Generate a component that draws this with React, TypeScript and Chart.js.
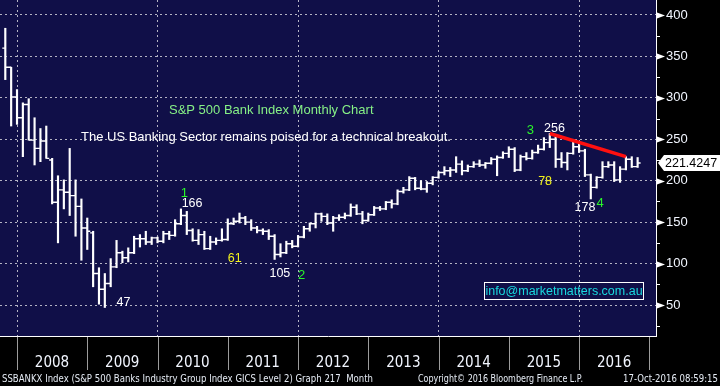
import React, { useEffect, useRef } from 'react';
import { Chart, registerables } from 'chart.js';

Chart.register(...registerables);

// Monthly bars, Oct 2007 .. Oct 2016 (index 0 = Oct 2007)
const firstMonth = 'Oct 2007';
const yearLabels = ['2008', '2009', '2010', '2011', '2012', '2013', '2014', '2015', '2016', ''];
// index of each December bar (year boundaries)
const yearEnds = [2, 14, 26, 38, 50, 62, 74, 86, 98, 110];

const opens = [
  360, 337, 301, 276, 292, 249, 239, 248, 225, 174,
  189, 186, 182, 169, 143, 137, 88, 69, 76, 96,
  113, 107, 113, 130, 130, 126, 131, 127, 136, 134,
  148, 158, 140, 128, 135, 118, 126, 128, 129, 148,
  151, 155, 150, 143, 140, 139, 133, 111, 113, 124,
  121, 132, 142, 148, 160, 157, 149, 155, 156, 158,
  168, 160, 152, 159, 167, 166, 174, 172, 187, 189,
  203, 191, 190, 197, 204, 210, 212, 213, 220, 212,
  217, 220, 219, 221, 226, 228, 233, 238, 213, 229,
  227, 234, 238, 246, 250, 226, 222, 233, 241, 236,
  207, 192, 204, 217, 219, 201, 214, 226, 217,
];
const highs = [
  384, 337, 310, 294, 299, 276, 263, 266, 227, 206,
  201, 239, 201, 178, 155, 139, 95, 88, 106, 128,
  115, 119, 133, 135, 139, 132, 132, 139, 139, 153,
  166, 163, 142, 141, 139, 133, 131, 142, 154, 155,
  161, 157, 153, 145, 142, 141, 135, 124, 127, 128,
  134, 145, 149, 161, 161, 160, 157, 159, 161, 172,
  171, 163, 161, 169, 169, 175, 177, 189, 192, 205,
  204, 200, 199, 205, 211, 217, 216, 229, 224, 219,
  223, 225, 222, 228, 230, 235, 241, 240, 231, 234,
  237, 243, 252, 257, 253, 234, 234, 250, 246, 238,
  208, 205, 223, 223, 223, 217, 229, 229, 228,
];
const lows = [
  322, 266, 268, 229, 249, 219, 223, 227, 172, 125,
  166, 158, 133, 104, 117, 72, 51, 47, 72, 95,
  101, 102, 112, 120, 123, 123, 125, 125, 129, 133,
  147, 135, 127, 123, 117, 117, 123, 127, 128, 147,
  149, 147, 140, 137, 135, 129, 105, 108, 112, 119,
  120, 131, 139, 143, 151, 147, 139, 152, 154, 157,
  159, 148, 151, 158, 164, 165, 167, 171, 185, 188,
  189, 189, 186, 195, 203, 207, 205, 210, 207, 211,
  216, 217, 215, 220, 206, 227, 228, 211, 212, 225,
  226, 233, 237, 240, 216, 216, 213, 232, 234, 205,
  178, 191, 203, 216, 199, 198, 213, 216, 216,
];
const closes = [
  337, 301, 276, 292, 249, 239, 248, 227, 174, 189,
  186, 182, 169, 143, 139, 88, 69, 76, 96, 113,
  107, 113, 130, 130, 126, 131, 127, 136, 134, 148,
  158, 140, 128, 135, 118, 126, 128, 129, 148, 151,
  155, 150, 143, 140, 139, 133, 111, 113, 124, 121,
  132, 142, 148, 160, 157, 149, 155, 156, 158, 168,
  160, 152, 159, 167, 166, 174, 172, 187, 189, 203,
  191, 190, 197, 204, 210, 212, 213, 220, 212, 217,
  220, 219, 221, 226, 228, 233, 238, 213, 229, 227,
  234, 238, 246, 250, 226, 222, 233, 241, 236, 207,
  192, 204, 217, 219, 201, 214, 226, 217, 221.4247,
];
const lastPriceText = '221.4247';

// red resistance line (bar index, value)
const trendIdx = [93, 106];
const trendVal = [257, 229];

const yTickValues = [25, 50, 75, 100, 125, 150, 175, 200, 225, 250, 275, 300, 325, 350, 375, 400];

const GREEN = '#2af52a';
const YELLOW = '#f2f21c';
const WHITE = '#ffffff';
const annotations = [
  { text: 'S&P 500 Bank Index Monthly Chart', i: 27.96, v: 285.3, color: '#86f086', size: 13, align: 'left' },
  { text: 'The US Banking Sector remains poised for a technical breakout.', i: 12.93, v: 252.8, color: WHITE, size: 13, align: 'left' },
  { text: '1', i: 30.6, v: 185.2, color: GREEN, size: 13, align: 'center' },
  { text: '166', i: 31.9, v: 171.9, color: WHITE, size: 12.5, align: 'center' },
  { text: '47', i: 20.2, v: 52.4, color: WHITE, size: 12.5, align: 'center' },
  { text: '61', i: 39.2, v: 105.5, color: YELLOW, size: 12.5, align: 'center' },
  { text: '105', i: 46.9, v: 88.0, color: WHITE, size: 12.5, align: 'center' },
  { text: '2', i: 50.6, v: 86.2, color: GREEN, size: 13, align: 'center' },
  { text: '3', i: 89.7, v: 261.2, color: GREEN, size: 13, align: 'center' },
  { text: '256', i: 93.8, v: 262.4, color: WHITE, size: 12.5, align: 'center' },
  { text: '78', i: 92.2, v: 199.0, color: YELLOW, size: 12.5, align: 'center' },
  { text: '178', i: 99.0, v: 167.7, color: WHITE, size: 12.5, align: 'center' },
  { text: '4', i: 101.6, v: 173.1, color: GREEN, size: 13, align: 'center' },
];

const footerLeft = 'SSBANKX Index (S&P 500 Banks Industry Group Index GICS Level 2) Graph 217  Month';
const footerMid = 'Copyright\u00A9 2016 Bloomberg Finance L.P.';
const footerRight = '17-Oct-2016 08:59:15';
const infoText = 'info@marketmatters.com.au';

const NAVY = '#100f48';
const GRID = '#b4b4c4';
const SANS = '"Liberation Sans", Arial, sans-serif';
const FOOT = '"DejaVu Sans", Tahoma, sans-serif';

const zeroPadding = (s: any) => {
  s.paddingLeft = 0;
  s.paddingRight = 0;
  s.paddingTop = 0;
  s.paddingBottom = 0;
};

const decorPlugin = {
  id: 'decor',
  beforeDraw(chart: any) {
    const { ctx, chartArea: a, width, height } = chart;
    ctx.save();
    ctx.fillStyle = '#000000';
    ctx.fillRect(0, 0, width, height);
    ctx.fillStyle = NAVY;
    ctx.fillRect(a.left, a.top, a.right - a.left, a.bottom - a.top);
    ctx.restore();
  },
  afterDatasetDraw(chart: any, args: any) {
    if (args.index !== 0) return;
    const { ctx, chartArea: a } = chart;
    const xs = chart.scales.x;
    const ys = chart.scales.y;
    ctx.save();
    ctx.beginPath();
    ctx.rect(a.left, a.top, a.right - a.left, a.bottom - a.top);
    ctx.clip();
    ctx.strokeStyle = '#ffffff';
    ctx.lineWidth = 1.4;
    ctx.beginPath();
    for (let i = 0; i < opens.length; i++) {
      const px = xs.getPixelForValue(i);
      const yo = ys.getPixelForValue(opens[i]);
      const yc = ys.getPixelForValue(closes[i]);
      ctx.moveTo(px - 3, yo);
      ctx.lineTo(px, yo);
      ctx.moveTo(px, yc);
      ctx.lineTo(px + 3, yc);
    }
    ctx.stroke();
    ctx.restore();
  },
  afterDraw(chart: any) {
    const { ctx, chartArea: a, width } = chart;
    const xs = chart.scales.x;
    const ys = chart.scales.y;
    ctx.save();

    // annotations
    ctx.textBaseline = 'middle';
    annotations.forEach((an) => {
      ctx.font = `${an.size}px ${SANS}`;
      ctx.fillStyle = an.color;
      ctx.textAlign = an.align as CanvasTextAlign;
      ctx.fillText(an.text, xs.getPixelForValue(an.i), ys.getPixelForValue(an.v));
    });

    // info box
    const bx = a.right - 172;
    const by = a.bottom - 54;
    ctx.strokeStyle = '#ffffff';
    ctx.lineWidth = 1;
    ctx.strokeRect(bx + 0.5, by + 0.5, 159, 17);
    ctx.font = `12.5px ${SANS}`;
    ctx.fillStyle = '#19d9df';
    ctx.textAlign = 'center';
    ctx.fillText(infoText, bx + 80, by + 9.5);

    // y-axis markers
    yTickValues.forEach((v) => {
      const py = Math.round(ys.getPixelForValue(v)) + 0.5;
      ctx.fillStyle = '#ffffff';
      ctx.strokeStyle = '#ffffff';
      if (v % 50 === 0) {
        ctx.beginPath();
        ctx.moveTo(a.right + 1, py - 3);
        ctx.lineTo(a.right + 9, py);
        ctx.lineTo(a.right + 1, py + 3);
        ctx.closePath();
        ctx.fill();
      } else {
        ctx.beginPath();
        ctx.moveTo(a.right, py);
        ctx.lineTo(a.right + 4, py);
        ctx.stroke();
      }
    });

    // last price tag
    const ly = ys.getPixelForValue(closes[closes.length - 1]);
    ctx.fillStyle = '#ffffff';
    ctx.beginPath();
    ctx.moveTo(a.right + 2, ly);
    ctx.lineTo(a.right + 8, ly - 8);
    ctx.lineTo(width, ly - 8);
    ctx.lineTo(width, ly + 8);
    ctx.lineTo(a.right + 8, ly + 8);
    ctx.closePath();
    ctx.fill();
    ctx.fillStyle = '#000000';
    ctx.font = `12.5px ${SANS}`;
    ctx.textAlign = 'left';
    ctx.fillText(lastPriceText, a.right + 9, ly + 0.5);

    // year dividers below the plot
    ctx.strokeStyle = '#9c9c9c';
    ctx.lineWidth = 1;
    yearEnds.forEach((d) => {
      const px = Math.round(xs.getPixelForValue(d)) + 0.5;
      ctx.beginPath();
      ctx.moveTo(px, a.bottom + 1);
      ctx.lineTo(px, a.bottom + 34);
      ctx.stroke();
    });

    // footer
    ctx.fillStyle = '#e6ecf5';
    ctx.font = `10.5px ${FOOT}`;
    ctx.textBaseline = 'middle';
    ctx.textAlign = 'left';
    ctx.fillText(footerLeft, 2, 379, 371);
    ctx.fillText(footerMid, 418, 379, 165);
    ctx.fillText(footerRight, 623, 379, 95);
    ctx.restore();
  },
};

export default function App() {
  const ref = useRef<HTMLCanvasElement | null>(null);

  useEffect(() => {
    if (!ref.current) return;
    const chart = new Chart(ref.current, {
      type: 'bar',
      data: {
        datasets: [
          {
            type: 'bar',
            label: 'SSBANKX from ' + firstMonth,
            data: highs.map((h, i) => ({ x: i, y: [lows[i], h] })) as any,
            backgroundColor: '#ffffff',
            borderWidth: 0,
            barThickness: 1.5,
            grouped: false,
            order: 2,
          } as any,
          {
            type: 'line',
            label: 'trend',
            data: trendIdx.map((t, k) => ({ x: t, y: trendVal[k] })) as any,
            borderColor: '#ff1010',
            borderWidth: 3.5,
            pointRadius: 0,
            fill: false,
            order: 1,
          } as any,
        ],
      },
      options: {
        animation: false,
        responsive: false,
        maintainAspectRatio: false,
        layout: { padding: 0 },
        plugins: { legend: { display: false }, tooltip: { enabled: false } },
        scales: {
          x: {
            type: 'linear',
            position: 'bottom',
            min: -0.905,
            max: 111.14,
            offset: false,
            afterFit: (s: any) => {
              s.height = 50;
              zeroPadding(s);
            },
            afterBuildTicks: (s: any) => {
              s.ticks = yearEnds.map((v) => ({ value: v }));
            },
            grid: {
              offset: false,
              drawTicks: false,
              lineWidth: 1,
              color: (c: any) => (c.index % 2 === 0 && c.index < 9 ? GRID : 'rgba(0,0,0,0)'),
            },
            border: { display: true, color: '#ffffff', width: 1, dash: [2, 3] },
            ticks: {
              autoSkip: false,
              maxRotation: 0,
              minRotation: 0,
              padding: 18,
              labelOffset: 35,
              color: '#f2f6ff',
              font: { family: '"Liberation Sans Narrow", "DejaVu Sans Condensed", sans-serif', size: 15 },
              callback: (_v: any, idx: number) => yearLabels[idx] ?? '',
            },
          },
          y: {
            type: 'linear',
            position: 'right',
            min: 12.6,
            max: 418.1,
            afterFit: (s: any) => {
              s.width = 64;
              zeroPadding(s);
            },
            afterBuildTicks: (s: any) => {
              s.ticks = yTickValues.map((v) => ({ value: v }));
            },
            grid: {
              drawTicks: false,
              lineWidth: 1,
              color: (c: any) => (c.tick && c.tick.value % 50 === 0 ? GRID : 'rgba(0,0,0,0)'),
            },
            border: { display: true, color: '#ffffff', width: 1, dash: [2, 3] },
            ticks: {
              padding: 10,
              color: '#f2f6ff',
              font: { family: SANS, size: 13 },
              callback: (v: any) => (Number(v) % 50 === 0 ? String(v) : ''),
            },
          },
        },
      },
      plugins: [decorPlugin],
    });
    return () => chart.destroy();
  }, []);

  return (
    <div style={{ position: 'fixed', left: 0, top: 0, width: 720, height: 386, background: '#000' }}>
      <canvas ref={ref} width={720} height={386} style={{ display: 'block', width: 720, height: 386 }} />
    </div>
  );
}
